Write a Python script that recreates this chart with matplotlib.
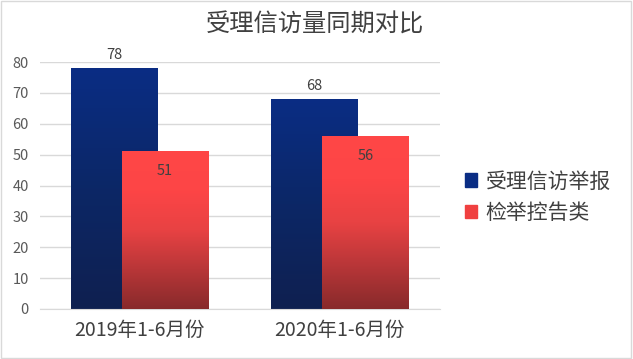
import numpy as np
import matplotlib
matplotlib.use("Agg")
import matplotlib.pyplot as plt
from matplotlib.colors import LinearSegmentedColormap
from matplotlib.patches import Rectangle

plt.rcParams['font.family'] = ['Noto Sans CJK SC', 'DejaVu Sans']

title = "受理信访量同期对比"
categories = ["2019年1-6月份", "2020年1-6月份"]
series_names = ["受理信访举报", "检举控告类"]
series1 = [78, 68]
series2 = [51, 56]
yticks = [0, 10, 20, 30, 40, 50, 60, 70, 80]

fig = plt.figure(figsize=(6.33, 3.59), dpi=100)
ax = fig.add_axes([40/633, 1 - 309/359, (440 - 40)/633, (309 - 62)/359])

x = np.arange(len(categories))
w = 0.429
off = 0.254

blue_cmap = LinearSegmentedColormap.from_list("b", ["#0f2050", "#0c2766", "#0a2d84"])
red_cmap = LinearSegmentedColormap.from_list("r", ["#882a2b", "#b83638", "#e84243", "#fd4546", "#ff4747"])

b1 = ax.bar(x - off / 2, series1, w, color="#0a2d84", zorder=2, label=series_names[0])
b2 = ax.bar(x + off / 2, series2, w, color="#f84444", zorder=3, label=series_names[1])

grad = np.linspace(0, 1, 256).reshape(-1, 1)
for bars, cmap, z in [(b1, blue_cmap, 2.1), (b2, red_cmap, 3.1)]:
    for bar in bars:
        bx, by = bar.get_x(), bar.get_y()
        bw, bh = bar.get_width(), bar.get_height()
        ax.imshow(grad, extent=[bx, bx + bw, by, by + bh], origin="lower",
                  cmap=cmap, aspect="auto", zorder=z)
        bar.set_facecolor("none")

for bar, v in zip(b1, series1):
    ax.text(bar.get_x() + bar.get_width() / 2, v + 2.0, str(v), ha="center", va="bottom",
            fontsize=10.5, color="#404040", zorder=5)
for bar, v in zip(b2, series2):
    ax.text(bar.get_x() + bar.get_width() / 2, v - 6.3, str(v), ha="center", va="center",
            fontsize=10.5, color="#404040", zorder=5)

ax.set_xlim(-0.496, 1.499)
ax.set_ylim(0, 80)
ax.set_yticks(yticks)
ax.set_yticklabels([str(t) for t in yticks], fontsize=10.5, color="#595959")
ax.set_xticks(x)
ax.set_xticklabels(categories, fontsize=14, color="#404040")
ax.tick_params(axis="both", length=0)
ax.tick_params(axis="y", pad=8)
ax.tick_params(axis="x", pad=8)
ax.yaxis.grid(True, color="#d9d9d9", linewidth=1, zorder=0)
ax.set_axisbelow(True)
for s in ["top", "right", "left"]:
    ax.spines[s].set_visible(False)
ax.spines["bottom"].set_color("#d9d9d9")

fig.text(315 / 633, 1 - 25 / 359, title, ha="center", va="center", fontsize=17.5, color="#404040")

handles = [Rectangle((0, 0), 1, 1, color="#0a2d84"), Rectangle((0, 0), 1, 1, color="#f04040")]
leg = fig.legend(handles, series_names, loc="center left", bbox_to_anchor=(446 / 633, 1 - 197 / 359),
                 frameon=False, fontsize=15, handlelength=0.6, handleheight=0.6,
                 handletextpad=0.4, labelspacing=0.45, labelcolor="#404040")

fig.patches.append(Rectangle((0.002, 0.003), 0.995, 0.994, transform=fig.transFigure,
                             fill=False, edgecolor="#d9d9d9", linewidth=1))

fig.savefig("out.png", dpi=100)
